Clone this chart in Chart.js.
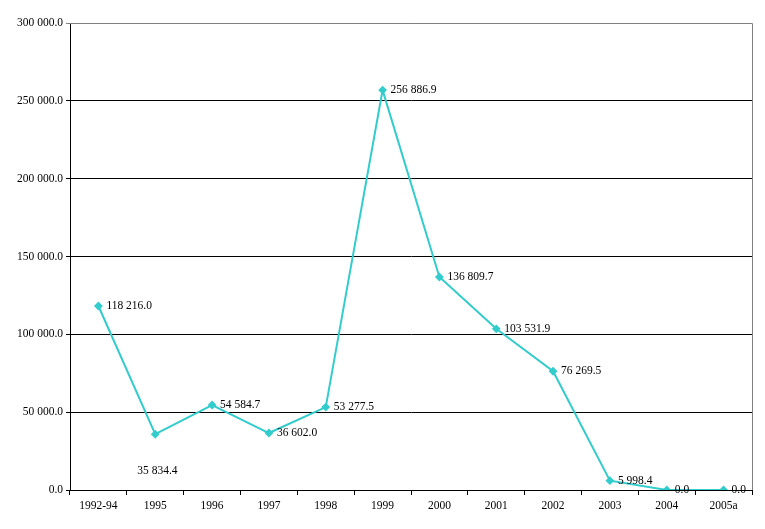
<!DOCTYPE html>
<html>
<head>
<meta charset="utf-8">
<script src="https://cdn.jsdelivr.net/npm/chart.js@4.4.1/dist/chart.umd.min.js"></script>
<style>
  html, body { margin: 0; padding: 0; background: #fff; }
  #wrap { width: 765px; height: 529px; }
</style>
</head>
<body>
<div id="wrap"><canvas id="lineChart"></canvas></div>
<script>
const years = ["1992-94", "1995", "1996", "1997", "1998", "1999", "2000", "2001", "2002", "2003", "2004", "2005a"];
const amounts = [118216.0, 35834.4, 54584.7, 36602.0, 53277.5, 256886.9, 136809.7, 103531.9, 76269.5, 5998.4, 0.0, 0.0];
const yMin = 0;
const yMax = 300000;
const yStep = 50000;

//format like "118 216.0"
function fmt(v){
  const parts = v.toFixed(1).split(".");
  return parts[0].replace(/\B(?=(\d{3})+(?!\d))/g, " ") + "." + parts[1];
}

//labels next to each point, the 1995 one sits below
const pointLabels = {
  id: "pointLabels",
  afterDatasetsDraw(chart){
    const ctx = chart.ctx;
    const meta = chart.getDatasetMeta(0);
    ctx.save();
    ctx.font = "11.5px 'Liberation Serif'";
    ctx.fillStyle = "#000";
    ctx.textBaseline = "middle";
    meta.data.forEach((pt, i) => {
      let x = pt.x + 8;
      let y = pt.y;
      if (i === 1) { x = pt.x - 18; y = pt.y + 37; }
      ctx.fillText(fmt(amounts[i]), x, y);
    });
    ctx.restore();
  }
};

//grey frame on top and right of the plot
const frame = {
  id: "frame",
  beforeDatasetsDraw(chart){
    const a = chart.chartArea;
    const ctx = chart.ctx;
    ctx.save();
    ctx.strokeStyle = "#808080";
    ctx.lineWidth = 1;
    ctx.beginPath();
    ctx.moveTo(a.left, a.top + 0.5);
    ctx.lineTo(a.right + 0.5, a.top + 0.5);
    ctx.lineTo(a.right + 0.5, a.bottom);
    ctx.stroke();
    ctx.restore();
  }
};

const ctx = document.getElementById("lineChart").getContext("2d");
new Chart(ctx, {
  type: "line",
  data: {
    labels: years,
    datasets: [{
      data: amounts,
      borderColor: "#33CCCC",
      backgroundColor: "#33CCCC",
      borderWidth: 2,
      pointStyle: "rectRot",
      pointRadius: 3,
      tension: 0,
      fill: false
    }]
  },
  options: {
    responsive: true,
    maintainAspectRatio: false,
    animation: false,
    layout: { padding: { top: 23, right: 13, left: 0, bottom: 0 } },
    plugins: {
      legend: { display: false },
      tooltip: { enabled: false }
    },
    scales: {
      x: {
        offset: true,
        afterFit: s => { s.height = 39; },
        grid: {
          offset: true,
          drawOnChartArea: false,
          drawTicks: true,
          tickLength: 5,
          color: "#000"
        },
        border: { color: "#000", width: 1 },
        ticks: {
          color: "#000",
          font: { family: "'Liberation Serif'", size: 11.5 },
          maxRotation: 0,
          padding: 4
        }
      },
      y: {
        min: yMin,
        max: yMax,
        afterFit: s => { s.width = 70; },
        grid: {
          color: c => (c.tick && c.tick.value === yMax) ? "#808080" : "#000",
          drawTicks: true,
          tickLength: 4
        },
        border: { color: "#000", width: 1 },
        ticks: {
          stepSize: yStep,
          color: "#000",
          font: { family: "'Liberation Serif'", size: 11.5 },
          padding: 3,
          callback: v => fmt(v)
        }
      }
    }
  },
  plugins: [frame, pointLabels]
});
</script>
</body>
</html>
